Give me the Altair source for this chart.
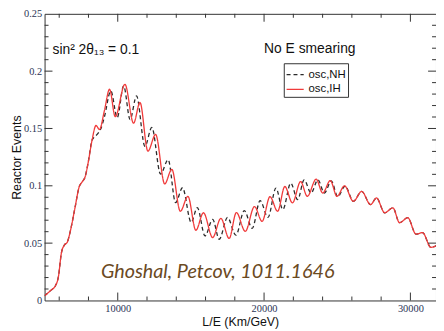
import altair as alt
import pandas as pd

# ---- data ----
series_names = ["osc,NH", "osc,IH"]

ih_x = [5000, 5405, 5743, 5946, 6149, 6351, 6554, 6757, 7094, 7365, 7568, 7770, 7973, 8243,
        8514, 8750, 9088, 9439, 9831, 10493, 11081, 11520, 12061, 12588, 13210, 13696, 14277,
        14797, 15338, 15858, 16487, 17047, 17615, 18108, 18716, 19345, 19865, 20406, 20926,
        21419, 21939, 22500, 22953, 23561, 24007, 24527, 24980, 25494, 26102, 26670, 27278,
        27683, 28244, 28805, 29258, 29818, 30386, 30832, 31400, 31825]
ih_y = [0.0041, 0.0086, 0.0129, 0.0207, 0.0414, 0.0483, 0.0509, 0.0603, 0.0819, 0.0991, 0.1034,
        0.1078, 0.1198, 0.1397, 0.1526, 0.1491, 0.1655, 0.1842, 0.1603, 0.1885, 0.1546, 0.1727,
        0.1302, 0.1448, 0.1017, 0.1144, 0.0778, 0.0908, 0.0612, 0.0765, 0.0549, 0.0716, 0.0541,
        0.0767, 0.0603, 0.0819, 0.0690, 0.0905, 0.0778, 0.0994, 0.0851, 0.1037, 0.0908, 0.1058,
        0.0937, 0.1046, 0.0908, 0.1000, 0.0865, 0.0951, 0.0836, 0.0894, 0.0765, 0.0808, 0.0678,
        0.0722, 0.0578, 0.0592, 0.0463, 0.0483]

nh_x = [5000, 5405, 5743, 5946, 6149, 6351, 6554, 6757, 7094, 7365, 7568, 7770, 7973, 8243,
        8378, 8649, 8851, 9088, 9527, 9966, 10405, 10845, 11284, 11858, 12331, 12926, 13446,
        13953, 14426, 15020, 15439, 15966, 16487, 16939, 17500, 18074, 18649, 19189, 19730,
        20270, 20811, 21284, 21825, 22298, 22737, 23210, 23683, 24122, 24595, 25034, 25541,
        26102, 26670, 27278, 27683, 28244, 28805, 29258, 29818, 30386, 30832, 31400, 31825]
nh_y = [0.0041, 0.0086, 0.0129, 0.0207, 0.0414, 0.0483, 0.0509, 0.0603, 0.0819, 0.0991, 0.1034,
        0.1078, 0.1198, 0.1397, 0.1422, 0.1457, 0.1500, 0.1600, 0.1828, 0.1595, 0.1871, 0.1578,
        0.1784, 0.1345, 0.1509, 0.1103, 0.1228, 0.0853, 0.0983, 0.0681, 0.0810, 0.0563, 0.0707,
        0.0534, 0.0724, 0.0569, 0.0784, 0.0629, 0.0870, 0.0724, 0.0980, 0.0793, 0.1023, 0.0879,
        0.1052, 0.0937, 0.1052, 0.0937, 0.1043, 0.0905, 0.0998, 0.0865, 0.0951, 0.0836, 0.0894,
        0.0765, 0.0808, 0.0678, 0.0722, 0.0578, 0.0592, 0.0463, 0.0483]

x_label_values = [10000, 20000, 30000]
x_minor_ticks = [6000, 8000, 12000, 14000, 16000, 18000, 22000, 24000, 26000, 28000]
y_label_values = [0, 0.05, 0.1, 0.15, 0.2, 0.25]
y_major_ticks = [0.05, 0.1, 0.15, 0.2]
y_minor_ticks = [v / 100 for v in range(1, 25) if v % 5 != 0]

notes_text = ["sin\u00b2 2\u03b8\u2081\u2083 = 0.1", "No E smearing"]
notes_x = [5540, 20000]
notes_y = [0.2150, 0.2160]
credit_text = ["Ghoshal, Petcov, 1011.1646"]
credit_x = [8851]
credit_y = [0.0200]

W, H = 396, 290

df = pd.concat([
    pd.DataFrame({"x": nh_x, "y": nh_y, "series": "osc,NH"}),
    pd.DataFrame({"x": ih_x, "y": ih_y, "series": "osc,IH"}),
])

xscale = alt.Scale(domain=[5000, 31750], nice=False, zero=False)
yscale = alt.Scale(domain=[0, 0.25], nice=False, zero=True)

xaxis = alt.Axis(values=x_label_values, format="d", title="L/E (Km/GeV)", grid=False,
                 ticks=False, domain=False, labelFlush=False, labelPadding=3, titlePadding=2)
yaxis = alt.Axis(values=y_label_values, format=".2~f", title="Reactor Events", grid=False,
                 ticks=False, domain=False, labelFlush=False, labelPadding=3, titlePadding=0)

legend = alt.Legend(title=None, orient="none", legendX=242, legendY=50, strokeColor="#333",
                    fillColor="white", padding=2, symbolType="stroke", symbolSize=300,
                    symbolStrokeWidth=1.3, labelFont="Liberation Sans", labelFontSize=11.5,
                    labelColor="#111", rowPadding=0, labelOffset=4)

lines = alt.Chart(df).mark_line(interpolate="monotone", clip=True, strokeWidth=1.3).encode(
    x=alt.X("x:Q", scale=xscale, axis=xaxis),
    y=alt.Y("y:Q", scale=yscale, axis=yaxis),
    color=alt.Color("series:N", scale=alt.Scale(domain=series_names, range=["#2a2a2a", "#f03a3a"]),
                    legend=legend),
    strokeDash=alt.StrokeDash("series:N", scale=alt.Scale(domain=series_names, range=[[4, 3], [1, 0]]),
                              legend=legend),
    order=alt.Order("x:Q"),
)

tick_color = "#333"

def xticks(vals, length):
    d = pd.DataFrame({"v": vals})
    bottom = alt.Chart(d).mark_rule(color=tick_color, strokeWidth=1).encode(
        x=alt.X("v:Q", scale=xscale, axis=xaxis), y=alt.value(H), y2=alt.value(H - length))
    top = alt.Chart(d).mark_rule(color=tick_color, strokeWidth=1).encode(
        x=alt.X("v:Q", scale=xscale, axis=xaxis), y=alt.value(0), y2=alt.value(length))
    return [bottom, top]

def yticks(vals, length):
    d = pd.DataFrame({"v": vals})
    left = alt.Chart(d).mark_rule(color=tick_color, strokeWidth=1).encode(
        y=alt.Y("v:Q", scale=yscale, axis=yaxis), x=alt.value(0), x2=alt.value(length))
    right = alt.Chart(d).mark_rule(color=tick_color, strokeWidth=1).encode(
        y=alt.Y("v:Q", scale=yscale, axis=yaxis), x=alt.value(W), x2=alt.value(W - length))
    return [left, right]

tick_layers = (xticks(x_label_values, 8) + xticks(x_minor_ticks, 4)
               + yticks(y_major_ticks, 8) + yticks(y_minor_ticks, 4))

notes = alt.Chart(pd.DataFrame({"t": notes_text, "x": notes_x, "y": notes_y})).mark_text(
    align="left", baseline="alphabetic", font="Liberation Sans", fontSize=14, color="#111"
).encode(x=alt.X("x:Q", scale=xscale, axis=xaxis), y=alt.Y("y:Q", scale=yscale, axis=yaxis), text="t:N")

credit = alt.Chart(pd.DataFrame({"t": credit_text, "x": credit_x, "y": credit_y})).mark_text(
    align="left", baseline="alphabetic", font="Lato", fontStyle="italic", fontSize=20, color="#6b4a1f"
).encode(x=alt.X("x:Q", scale=xscale, axis=xaxis), y=alt.Y("y:Q", scale=yscale, axis=yaxis), text="t:N")

chart = alt.layer(lines, *tick_layers, notes, credit).properties(
    width=W, height=H,
    autosize=alt.AutoSizeParams(type="none"),
    padding={"left": 37, "top": 4, "right": 0, "bottom": 29},
).configure_view(stroke="#333", strokeWidth=1).configure_axis(
    labelFont="Liberation Serif", labelFontSize=10.5, labelColor="#2a3355",
    titleFont="Liberation Sans", titleFontSize=12.5, titleFontWeight="normal", titleColor="#111"
)

chart.save("out.html", embed_options={"renderer": "svg", "actions": False})
